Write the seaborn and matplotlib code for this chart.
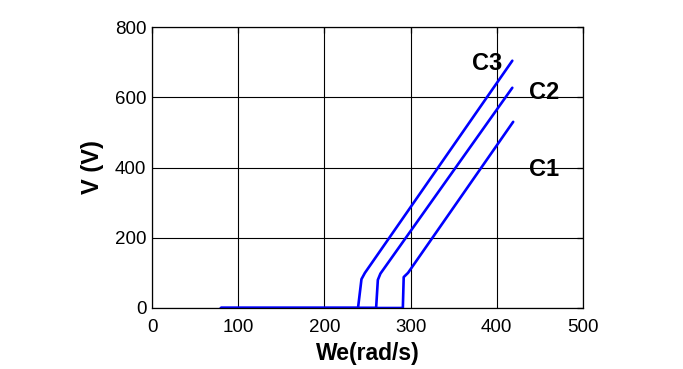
import matplotlib
matplotlib.use("Agg")
import matplotlib.pyplot as plt
import seaborn as sns
import pandas as pd

# Data
c1_we = [80, 291, 292, 297, 419]
c1_v = [0, 0, 88, 100, 530]
c2_we = [80, 260, 262, 265, 418]
c2_v = [0, 0, 80, 98, 627]
c3_we = [80, 239, 243, 247, 418]
c3_v = [0, 0, 82, 100, 704]

curve_labels = ["C1", "C2", "C3"]
label_pos_x = [455, 455, 389]
label_pos_y = [393, 613, 695]

x_ticks = [0, 100, 200, 300, 400, 500]
y_ticks = [0, 200, 400, 600, 800]

frames = []
for name, xs, ys in zip(curve_labels, [c1_we, c2_we, c3_we], [c1_v, c2_v, c3_v]):
    frames.append(pd.DataFrame({"We": xs, "V": ys, "curve": name}))
df = pd.concat(frames, ignore_index=True)

sns.set_style("white")
plt.rcParams["font.family"] = ["Liberation Sans", "DejaVu Sans"]
plt.rcParams["text.color"] = "black"
plt.rcParams["axes.labelcolor"] = "black"

fig = plt.figure(figsize=(6.83, 3.69), dpi=100)
ax = fig.add_axes([152 / 683, 1 - 308 / 369, (583 - 152) / 683, (308 - 27) / 369])

sns.lineplot(data=df, x="We", y="V", hue="curve", units="curve", estimator=None,
             sort=False, palette=["#0000ff"] * 3, linewidth=1.9, legend=False, ax=ax)

ax.set_xlim(0, 500)
ax.set_ylim(0, 800)
ax.set_xticks(x_ticks)
ax.set_yticks(y_ticks)
ax.grid(True, color="black", linewidth=0.8, linestyle="-")
ax.set_axisbelow(True)
for s in ax.spines.values():
    s.set_visible(True)
    s.set_color("black")
    s.set_linewidth(0.9)
ax.tick_params(direction="in", length=4, width=0.9, top=True, right=True,
               labelsize=13.5, colors="black")
ax.tick_params(axis="x", pad=8)
ax.tick_params(axis="y", pad=4)

ax.set_xlabel("We(rad/s)", fontsize=16.5, fontweight="bold", labelpad=4, color="black")
ax.set_ylabel("V (V)", fontsize=17, fontweight="bold", labelpad=8, color="black")

for lab, lx, ly in zip(curve_labels, label_pos_x, label_pos_y):
    ax.text(lx, ly, lab, fontsize=17, fontweight="bold", ha="center", va="center",
            color="black", clip_on=False)

fig.savefig("out.png", dpi=100)
